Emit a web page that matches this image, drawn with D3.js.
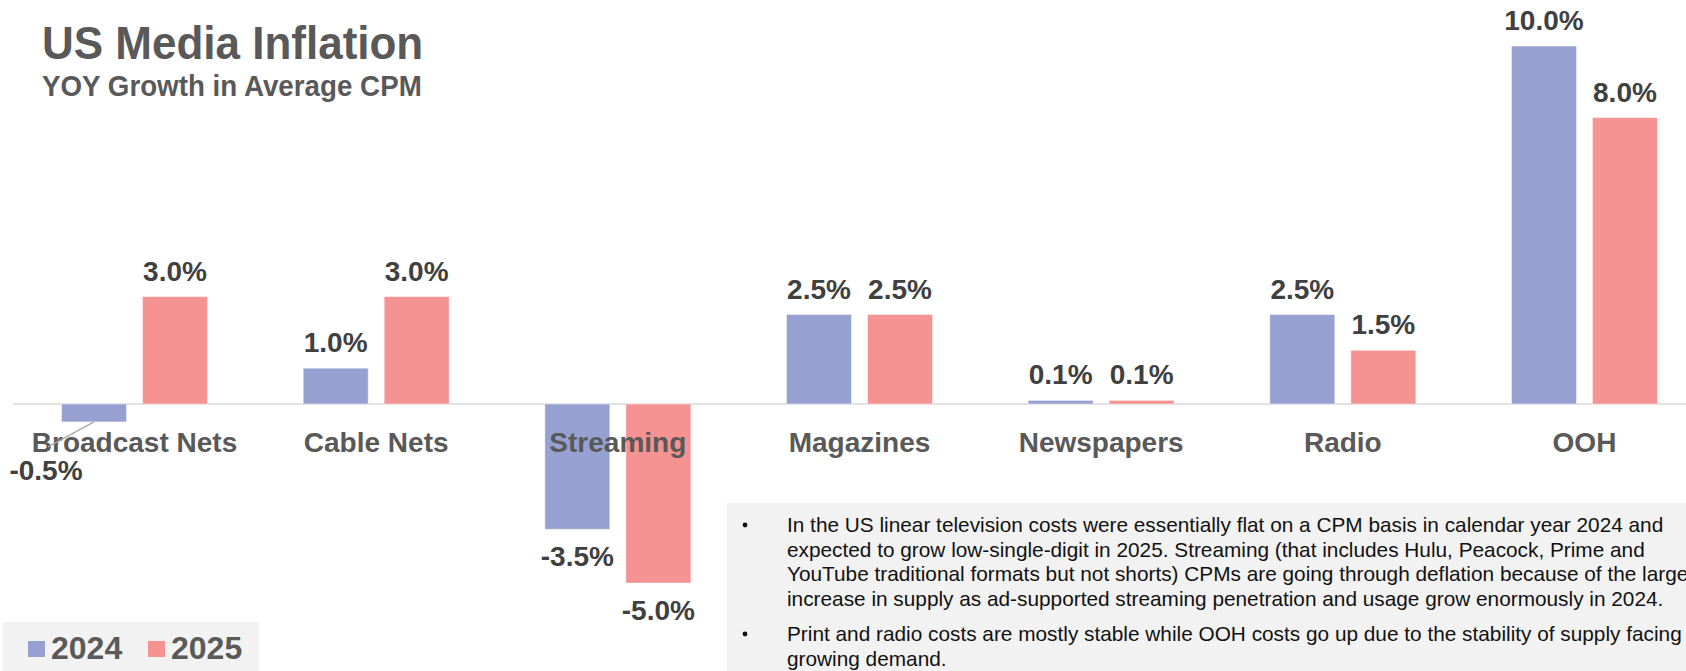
<!DOCTYPE html>
<html>
<head>
<meta charset="utf-8">
<script src="https://cdn.jsdelivr.net/npm/d3@7/dist/d3.min.js"></script>
<style>
  html, body { margin: 0; padding: 0; background: #fff; }
  svg { display: block; }
</style>
</head>
<body>
<svg id="chart" width="1686" height="671"></svg>
<script>
// Media categories and YOY CPM growth (%) per year
const categories = ["Broadcast Nets", "Cable Nets", "Streaming", "Magazines", "Newspapers", "Radio", "OOH"];
const seriesNames = ["2024", "2025"];
const values2024 = [-0.5, 1.0, -3.5, 2.5, 0.1, 2.5, 10.0];
const values2025 = [3.0, 3.0, -5.0, 2.5, 0.1, 1.5, 8.0];

const titleText = "US Media Inflation";
const subtitleText = "YOY Growth in Average CPM";

// Commentary, one array of wrapped lines per bullet
const noteBullets = [
  [
    "In the US linear television costs were essentially flat on a CPM basis in calendar year 2024 and",
    "expected to grow low-single-digit in 2025. Streaming (that includes Hulu, Peacock, Prime and",
    "YouTube traditional formats but not shorts) CPMs are going through deflation because of the large",
    "increase in supply as ad-supported streaming penetration and usage grow enormously in 2024."
  ],
  [
    "Print and radio costs are mostly stable while OOH costs go up due to the stability of supply facing",
    "growing demand."
  ]
];

const colors = { "2024": "#97a1d1", "2025": "#f59393" };
const FONT = "'Liberation Sans', Arial, sans-serif";

const data = categories.map((c, i) => ({
  category: c,
  values: [
    { series: "2024", value: values2024[i] },
    { series: "2025", value: values2025[i] }
  ]
}));

const svg = d3.select("#chart");

// Scales
const x0 = d3.scaleBand().domain(categories).range([13.7, 1705.3]).padding(0);
const groupWidth = 146;
const x1 = d3.scaleBand().domain(seriesNames).range([0, groupWidth]).paddingInner(0.1975).paddingOuter(0);
const y = d3.scaleLinear().domain([-5, 10]).range([583, 46]);
const groupLeft = c => x0(c) + (x0.bandwidth() - groupWidth) / 2;
// Percent labels with a plain hyphen for negatives
const pctLocale = d3.formatLocale({ decimal: ".", thousands: ",", grouping: [3], currency: ["$", ""], minus: "-" });
const fmt1 = pctLocale.format(".1f");
const fmt = v => fmt1(v) + "%";

// Title block
svg.append("text")
  .attr("transform", "translate(42,59) scale(0.936,1)")
  .attr("font-family", FONT).attr("font-weight", "bold").attr("font-size", 47)
  .attr("fill", "#595959").text(titleText);
svg.append("text")
  .attr("transform", "translate(42,96) scale(0.957,1)")
  .attr("font-family", FONT).attr("font-weight", "bold").attr("font-size", 29)
  .attr("fill", "#595959").text(subtitleText);

// Zero baseline
svg.append("line")
  .attr("x1", 13).attr("x2", 1686)
  .attr("y1", y(0)).attr("y2", y(0))
  .attr("stroke", "#d9d9d9").attr("stroke-width", 1.5);

// Bars
const groups = svg.append("g").selectAll("g.group")
  .data(data).join("g")
  .attr("class", "group")
  .attr("transform", d => `translate(${groupLeft(d.category)},0)`);

groups.selectAll("rect")
  .data(d => d.values).join("rect")
  .attr("x", d => x1(d.series))
  .attr("width", x1.bandwidth())
  .attr("y", d => y(Math.max(0, d.value)))
  .attr("height", d => Math.abs(y(d.value) - y(0)))
  .attr("fill", d => colors[d.series])
  .attr("stroke", "rgba(255,255,255,0.45)")
  .attr("stroke-width", 1);

// Category labels (drawn above the bars)
svg.append("g").selectAll("text")
  .data(categories).join("text")
  .attr("x", c => x0(c) + x0.bandwidth() / 2)
  .attr("y", 452)
  .attr("text-anchor", "middle")
  .attr("font-family", FONT).attr("font-weight", "bold").attr("font-size", 28)
  .attr("fill", "#595959")
  .text(c => c);

// Data labels; one label is nudged aside with a leader line
const labelNudge = { "Broadcast Nets|2024": { dx: -48, dy: 21 } };
const labelItems = [];
data.forEach(d => d.values.forEach(v => {
  const cx = groupLeft(d.category) + x1(v.series) + x1.bandwidth() / 2;
  const by = v.value >= 0 ? y(v.value) - 16 : y(v.value) + 37;
  const n = labelNudge[d.category + "|" + v.series] || { dx: 0, dy: 0 };
  labelItems.push({ v, barX: cx, barEnd: y(v.value), lx: cx + n.dx, ly: by + n.dy, nudged: n.dx !== 0 || n.dy !== 0 });
}));

svg.append("g").selectAll("line")
  .data(labelItems.filter(d => d.nudged)).join("line")
  .attr("x1", d => d.barX).attr("y1", d => d.barEnd)
  .attr("x2", d => d.lx + 2).attr("y2", d => d.ly - 33)
  .attr("stroke", "#a6a6a6").attr("stroke-width", 1.2);

svg.append("g").selectAll("text")
  .data(labelItems).join("text")
  .attr("x", d => d.lx).attr("y", d => d.ly)
  .attr("text-anchor", "middle")
  .attr("font-family", FONT).attr("font-weight", "bold").attr("font-size", 28)
  .attr("fill", "#404040")
  .text(d => fmt(d.v.value));

// Legend
const legend = svg.append("g");
legend.append("rect").attr("x", 3).attr("y", 622).attr("width", 256).attr("height", 49).attr("fill", "#f2f2f2");
const legendX = { "2024": 28, "2025": 148 };
const li = legend.selectAll("g.item").data(seriesNames).join("g")
  .attr("class", "item")
  .attr("transform", s => `translate(${legendX[s]},0)`);
li.append("rect").attr("x", 0).attr("y", 641).attr("width", 17).attr("height", 16).attr("fill", s => colors[s]);
li.append("text").attr("x", 23).attr("y", 659)
  .attr("font-family", FONT).attr("font-weight", "bold").attr("font-size", 32)
  .attr("fill", "#595959").text(s => s);

// Commentary box
const note = svg.append("g");
note.append("rect").attr("x", 727).attr("y", 503).attr("width", 1686 - 727).attr("height", 671 - 503).attr("fill", "#f2f2f2");
const paraTop = [532, 641];
const lineStep = 24.7;
noteBullets.forEach((lines, bi) => {
  note.append("circle").attr("cx", 745).attr("cy", paraTop[bi] - 7).attr("r", 2.4).attr("fill", "#111");
  lines.forEach((ln, li2) => {
    note.append("text")
      .attr("x", 787).attr("y", paraTop[bi] + li2 * lineStep)
      .attr("font-family", FONT).attr("font-size", 20.8)
      .attr("fill", "#111").text(ln);
  });
});
</script>
</body>
</html>
